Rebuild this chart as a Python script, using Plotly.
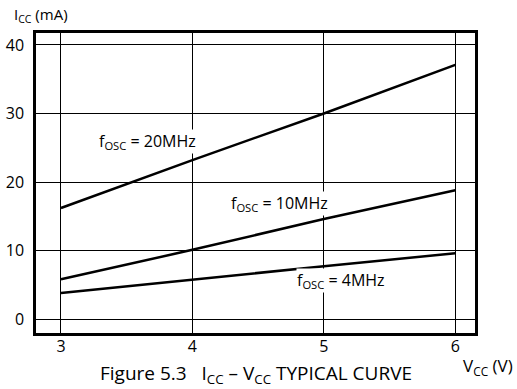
import plotly.graph_objects as go

# supply voltage (V) and supply current (mA)
vcc = [3, 4, 5, 6]
icc_20mhz = [16.2, 23.2, 30.0, 37.1]
icc_10mhz = [5.8, 10.1, 14.6, 18.8]
icc_4mhz = [3.8, 5.8, 7.7, 9.6]

curve_names = ["f<sub>OSC</sub> = 20MHz", "f<sub>OSC</sub> = 10MHz", "f<sub>OSC</sub> = 4MHz"]
label_pos = [(3.66, 25.9), (4.66, 16.8), (5.13, 5.6)]

font_name = "Open Sans"

fig = go.Figure()
for ys in [icc_20mhz, icc_10mhz, icc_4mhz]:
    fig.add_trace(go.Scatter(x=vcc, y=ys, mode="lines",
                             line=dict(color="black", width=2.5),
                             showlegend=False))

# curve labels, white box hides the grid behind the text
for name, (lx, ly) in zip(curve_names, label_pos):
    fig.add_annotation(x=lx, y=ly, text=name, showarrow=False,
                       bgcolor="white", borderpad=0,
                       font=dict(family=font_name, size=16, color="black"))

fig.add_annotation(xref="paper", yref="paper", x=-0.055, y=1.06,
                   xanchor="left", yanchor="middle", showarrow=False,
                   text="I<sub>CC</sub> (mA)",
                   font=dict(family=font_name, size=15, color="black"))
fig.add_annotation(xref="paper", yref="paper", x=1.09, y=-0.113,
                   xanchor="right", yanchor="middle", showarrow=False,
                   text="V<sub>CC</sub> (V)",
                   font=dict(family=font_name, size=17, color="black"))
fig.add_annotation(xref="paper", yref="paper", x=0.50, y=-0.135,
                   xanchor="center", yanchor="middle", showarrow=False,
                   text="Figure 5.3   I<sub>CC</sub> \u2013 V<sub>CC</sub> TYPICAL CURVE",
                   font=dict(family=font_name, size=19, color="black"))

fig.update_xaxes(range=[2.81, 6.15], tickvals=vcc, ticktext=["3", "4", "5", "6"],
                 showgrid=True, gridcolor="black", gridwidth=1,
                 showline=True, linecolor="black", linewidth=2.5, mirror=True,
                 ticks="", zeroline=False, ticklabelstandoff=-3, automargin=False,
                 tickfont=dict(family=font_name, size=16, color="black"))
fig.update_yaxes(range=[-2.04, 41.75], tickvals=[0, 10, 20, 30, 40],
                 showgrid=True, gridcolor="black", gridwidth=1,
                 showline=True, linecolor="black", linewidth=2.5, mirror=True,
                 ticks="", zeroline=False, ticklabelstandoff=6, automargin=False,
                 tickfont=dict(family=font_name, size=16, color="black"))

fig.update_layout(width=517, height=389,
                  margin=dict(l=36, r=42, t=33, b=56),
                  plot_bgcolor="white", paper_bgcolor="white")

# drop the default page margin so the figure sits at the window corner
fig.write_html("out.html", config={"displayModeBar": False},
               post_script="document.body.style.margin='0';")
